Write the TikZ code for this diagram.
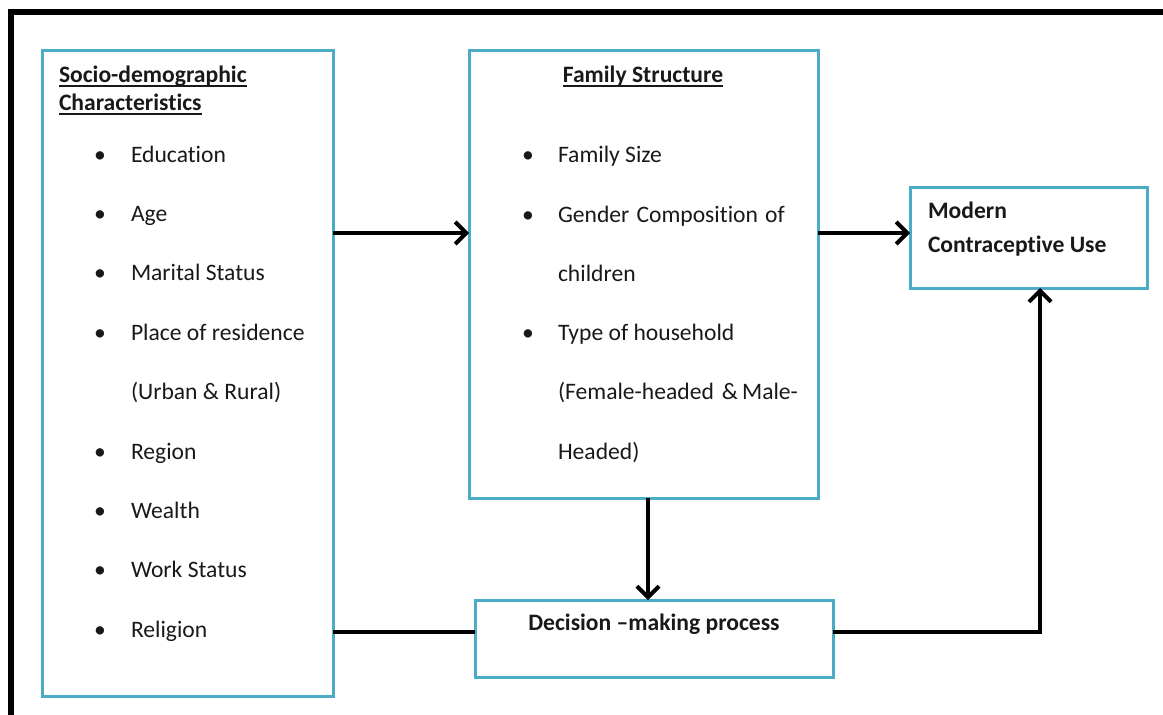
\documentclass[tikz,border=0pt]{standalone}
\usepackage{fontspec}
\setmainfont{Carlito}[Ligatures={NoCommon}]
\usetikzlibrary{arrows.meta}
\definecolor{boxblue}{HTML}{4BACC6}
\begin{document}
\begin{tikzpicture}[x=1pt,y=-1pt,
  every node/.style={font=\fontsize{23.6}{28}\selectfont, inner sep=0pt, outer sep=0pt, text=black!90},
  box/.style={draw=boxblue, line width=3pt, anchor=north west, rectangle},
  txt/.style={anchor=base west},
  bul/.style={anchor=base},
  conn/.style={line width=4pt},
  ulline/.style={line width=1.6pt, black!90},
  arr/.style={conn, -{Straight Barb[length=11pt,width=22pt]}},
]
\useasboundingbox (0,0) rectangle (1163,715);
\draw[line width=6pt] (11,715) -- (11,12) -- (1163,12);

% boxes
\node[box, minimum width=291pt, minimum height=646pt] (soc) at (42,50) {};
\node[box, minimum width=349pt, minimum height=448pt] (fam) at (469,50) {};
\node[box, minimum width=237pt, minimum height=101pt] (mcu) at (910,187) {};
\node[box, minimum width=358pt, minimum height=77pt] (dec) at (475,600) {};

% left box text
\node[txt] (s0) at (59,82) {\textbf{Socio-demographic}};
\node[txt] (s00) at (59,110) {\textbf{Characteristics}};
\draw[ulline] ([yshift=-4pt]s0.base west) -- ([yshift=-4pt]s0.base east);
\draw[ulline] ([yshift=-4pt]s00.base west) -- ([yshift=-4pt]s00.base east);
\foreach \t [count=\i] in {Education,Age,Marital Status,Place of residence,,Region,Wealth,Work Status,Religion}{
  \pgfmathsetmacro{\yy}{162+59.4*(\i-1)}
  \ifx\t\empty\else
  \node[bul] (sb\i) at (100,\yy) {•};
  \fi
  \node[txt] (st\i) at (131,\yy) {\t};
}
\node[txt] (st5b) at (131,399) {(Urban \& Rural)};

% middle box text
\node[anchor=base] (f0) at (643,82) {\textbf{Family Structure}};
\draw[ulline] ([yshift=-4pt]f0.base west) -- ([yshift=-4pt]f0.base east);
\node[bul] (fb1) at (528,162) {•};
\node[txt] (ft1) at (558,162) {Family Size};
\node[bul] (fb2) at (528,222) {•};
\node[txt] (ft2) at (558,222) {\makebox[226pt][s]{Gender \ Composition \ of}};
\node[txt] (ft3) at (558,281) {children};
\node[bul] (fb4) at (528,340) {•};
\node[txt] (ft4) at (558,340) {Type of household};
\node[txt] (ft5) at (558,399) {\makebox[240pt][s]{(Female-headed \ \& Male-}};
\node[txt] (ft6) at (558,459) {Headed)};

% right box text
\node[txt] (m1) at (928,218) {\textbf{Modern}};
\node[txt] (m2) at (928,252) {\textbf{Contraceptive Use}};

% decision text
\node[anchor=base] (d1) at (654,630) {\textbf{Decision –making process}};

% connectors
\coordinate (corner) at (1040,632);
\draw[arr] (soc.east|-0,233) -- (fam.west|-0,233);
\draw[arr] (fam.east|-0,233) -- (mcu.west|-0,233);
\draw[arr] (fam.south-|648,0) -- (dec.north-|648,0);
\draw[conn] (soc.east|-corner) -- (dec.west|-corner);
\draw[arr] (dec.east|-corner) -- (corner) -- (corner|-mcu.south);
\end{tikzpicture}
\end{document}
